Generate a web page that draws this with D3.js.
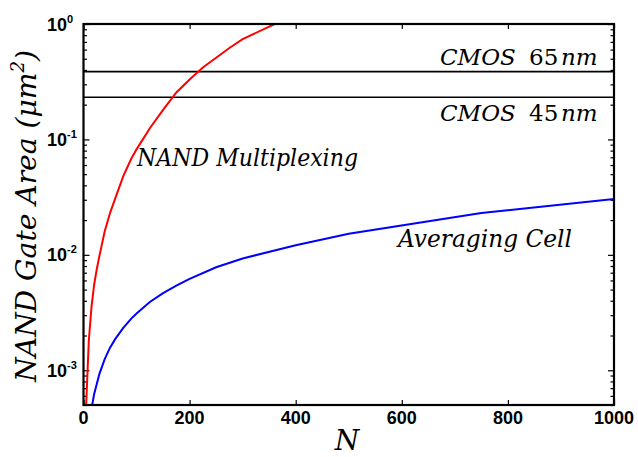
<!DOCTYPE html>
<html><head><meta charset="utf-8">
<script src="https://cdn.jsdelivr.net/npm/d3@7"></script>
<style>body{margin:0;background:#fff}svg{display:block}
.serif{font-family:'DejaVu Serif',serif;}
.sans{font-family:'Liberation Sans',Arial,sans-serif;font-weight:bold;}
</style>
</head><body><div id="c"></div>
<script>
// Data
const nandN    = [5, 10, 15, 20, 25, 30, 40, 50, 60, 75, 90, 100, 125, 150, 175, 200, 225, 250, 275, 300, 350, 400];
const nandArea = [0.0005, 0.0018, 0.0035, 0.0055, 0.0075, 0.0098, 0.016, 0.023, 0.031, 0.048, 0.068, 0.082, 0.125, 0.18, 0.255, 0.33, 0.42, 0.51, 0.62, 0.74, 0.95, 1.2];
const avgN     = [15, 20, 30, 40, 50, 60, 75, 90, 100, 125, 150, 175, 200, 250, 300, 400, 500, 750, 1000];
const avgArea  = [0.00046, 0.00062, 0.00093, 0.00125, 0.00157, 0.00187, 0.00233, 0.0028, 0.0031, 0.0039, 0.00466, 0.0054, 0.0062, 0.0078, 0.0093, 0.0121, 0.0152, 0.023, 0.0305];
const cmosLevels = [0.387, 0.232];
const cmosLabels = ["65", "45"];
const xTicks = [0, 200, 400, 600, 800, 1000];
const yTicks = [1e-3, 1e-2, 1e-1, 1];
const yExps  = ["-3", "-2", "-1", "0"];

const W = 638, H = 457;
const L = 83.5, R = 614, T = 24, B = 405;
const svg = d3.select("#c").append("svg").attr("width", W).attr("height", H);
const x = d3.scaleLinear().domain([0, 1000]).range([L, R]);
const y = d3.scaleLog().domain([5e-4, 1]).range([B, T]);

svg.append("clipPath").attr("id", "clip").append("rect")
  .attr("x", L).attr("y", T).attr("width", R - L).attr("height", B - T);

const minors = [];
[1e-4, 1e-3, 1e-2, 1e-1].forEach(d => { for (let k = 2; k <= 9; k++) { const v = d * k; if (v >= 5e-4 && v < 1) minors.push(v); } });

const axStyle = g => { g.select(".domain").remove(); g.selectAll("line").attr("stroke", "#000").attr("stroke-width", 1.2); g.selectAll("text").remove(); };

svg.append("g").attr("transform", `translate(${L},0)`).call(d3.axisLeft(y).tickValues(yTicks).tickSize(-6)).call(axStyle);
svg.append("g").attr("transform", `translate(${L},0)`).call(d3.axisLeft(y).tickValues(minors).tickSize(-3.5)).call(axStyle);
svg.append("g").attr("transform", `translate(${R},0)`).call(d3.axisRight(y).tickValues(yTicks).tickSize(-6)).call(axStyle);
svg.append("g").attr("transform", `translate(${R},0)`).call(d3.axisRight(y).tickValues(minors).tickSize(-3.5)).call(axStyle);
svg.append("g").attr("transform", `translate(0,${B})`).call(d3.axisBottom(x).tickValues(xTicks).tickSize(-5)).call(axStyle);
svg.append("g").attr("transform", `translate(0,${T})`).call(d3.axisTop(x).tickValues(xTicks).tickSize(-5)).call(axStyle);

svg.append("g").selectAll("text").data(xTicks).join("text").attr("class", "sans")
  .attr("x", d => x(d)).attr("y", 424).attr("text-anchor", "middle").attr("font-size", 18)
  .text(d => d);

const yl = svg.append("g").selectAll("text").data(yTicks).join("text").attr("class", "sans")
  .attr("x", 47).attr("y", d => y(d) + 6.5).attr("font-size", 18);
yl.append("tspan").text("10");
yl.append("tspan").attr("font-size", 11).attr("dy", -8).text((d, i) => yExps[i]);

svg.append("g").attr("clip-path", "url(#clip)").selectAll("line").data(cmosLevels).join("line")
  .attr("x1", x(0)).attr("x2", x(1000)).attr("y1", d => y(d)).attr("y2", d => y(d))
  .attr("stroke", "#000").attr("stroke-width", 1.6);

const line = d3.line().x(d => x(d[0])).y(d => y(d[1]));
const cg = svg.append("g").attr("clip-path", "url(#clip)");
cg.append("path").datum(nandN.map((n, i) => [n, nandArea[i]])).attr("d", line)
  .attr("fill", "none").attr("stroke", "#ff0000").attr("stroke-width", 2);
cg.append("path").datum(avgN.map((n, i) => [n, avgArea[i]])).attr("d", line)
  .attr("fill", "none").attr("stroke", "#0000ff").attr("stroke-width", 2);

svg.append("rect").attr("x", L).attr("y", T).attr("width", R - L).attr("height", B - T)
  .attr("fill", "none").attr("stroke", "#000").attr("stroke-width", 2.2);

cmosLabels.forEach((lab, i) => {
  const by = i === 0 ? y(cmosLevels[0]) - 7 : y(cmosLevels[1]) + 24;
  const t = svg.append("text").attr("class", "serif").attr("y", by).attr("font-size", 23);
  t.append("tspan").attr("x", 440).attr("font-style", "italic").text("CMOS");
  t.append("tspan").attr("x", 529).text(lab);
  t.append("tspan").attr("x", 561).attr("font-style", "italic").text("nm");
});

svg.append("text").attr("class", "serif").attr("x", 137).attr("y", 166).attr("font-style", "italic")
  .attr("font-size", 25).attr("textLength", 221).attr("lengthAdjust", "spacingAndGlyphs").text("NAND Multiplexing");
svg.append("text").attr("class", "serif").attr("x", 398).attr("y", 247).attr("font-style", "italic")
  .attr("font-size", 25).attr("textLength", 174).attr("lengthAdjust", "spacingAndGlyphs").text("Averaging Cell");

svg.append("text").attr("class", "serif").attr("x", 347).attr("y", 450).attr("text-anchor", "middle")
  .attr("font-style", "italic").attr("font-size", 28).text("N");
const yt = svg.append("text").attr("class", "serif").attr("transform", "translate(36,382) rotate(-90)")
  .attr("font-style", "italic").attr("font-size", 28).attr("textLength", 332).attr("lengthAdjust", "spacingAndGlyphs");
yt.append("tspan").text("NAND Gate Area (\u03bcm");
yt.append("tspan").attr("font-size", 18).attr("dy", -12).text("2");
yt.append("tspan").attr("dy", 12).text(")");
</script></body></html>
